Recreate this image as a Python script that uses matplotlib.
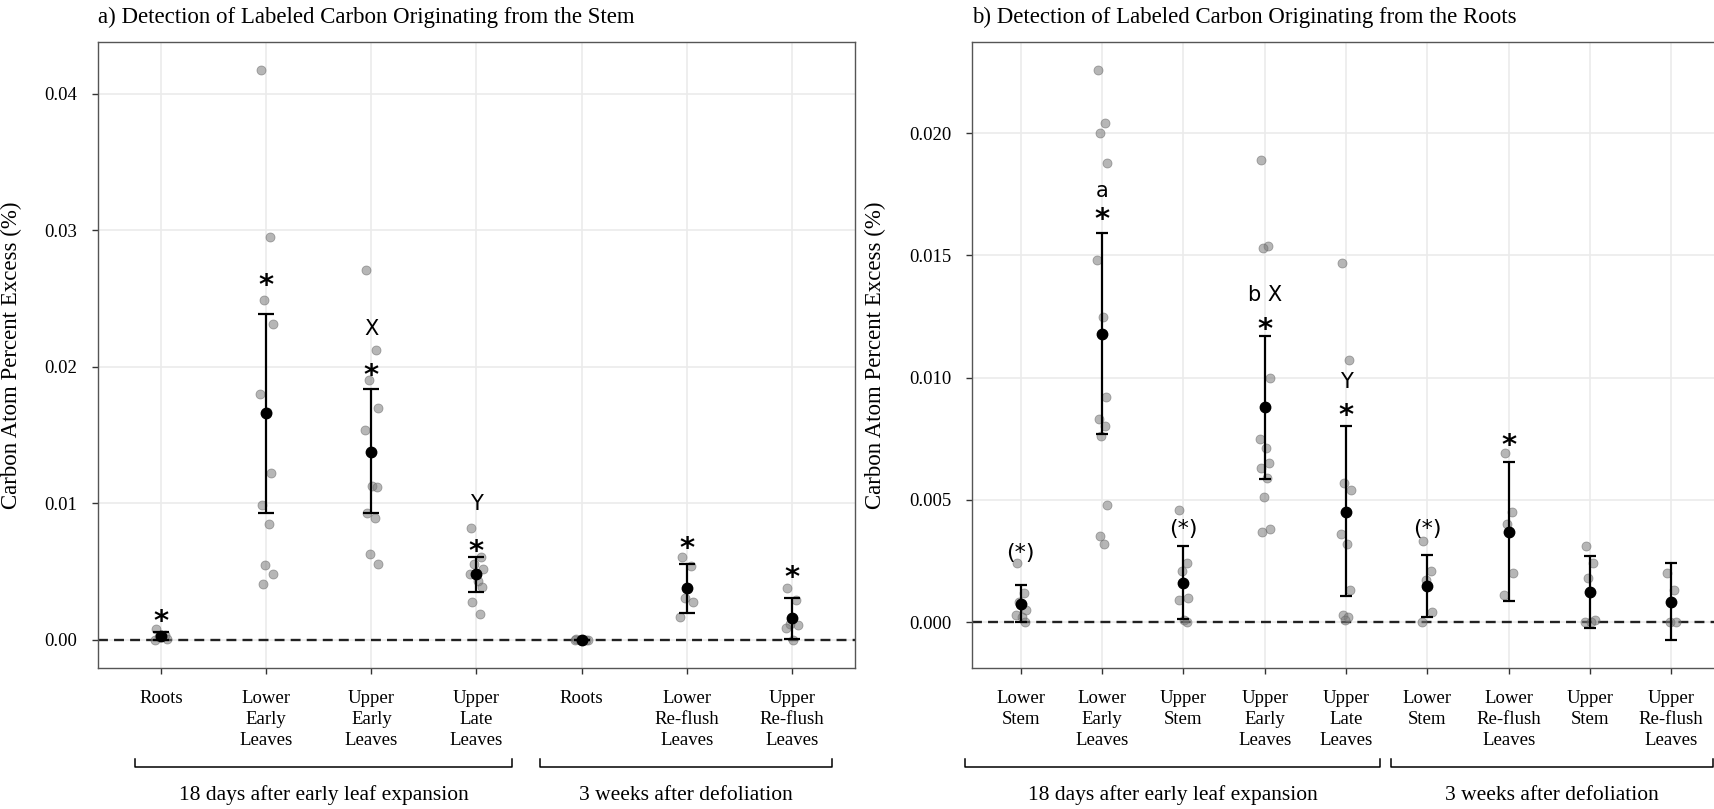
import numpy as np
import matplotlib
matplotlib.use('Agg')
from matplotlib import pyplot as plt
from matplotlib import transforms

plt.rcParams['font.family'] = 'Liberation Serif'

# a) label fed through the stem
stem_groups = ['Roots', 'Lower\nEarly\nLeaves', 'Upper\nEarly\nLeaves', 'Upper\nLate\nLeaves',
               'Roots', 'Lower\nRe-flush\nLeaves', 'Upper\nRe-flush\nLeaves']
stem_points = [
    [0.0008, 0.0004, 0.0002, 0.0001, 0.0000],
    [0.0417, 0.0295, 0.0249, 0.0231, 0.0180, 0.0167, 0.0122, 0.0099, 0.0085, 0.0055, 0.0048, 0.0041],
    [0.0271, 0.0212, 0.0190, 0.0170, 0.0154, 0.0113, 0.0112, 0.0093, 0.0089, 0.0063, 0.0056],
    [0.0082, 0.0061, 0.0056, 0.0052, 0.0048, 0.0043, 0.0039, 0.0028, 0.0019],
    [0.0001, 0.0000, 0.0000, 0.0000, 0.0000],
    [0.0061, 0.0054, 0.0031, 0.0028, 0.0017],
    [0.0038, 0.0029, 0.0012, 0.0011, 0.0009, 0.0000],
]
stem_mean = [0.0003, 0.0166, 0.0138, 0.0048, 0.0000, 0.0038, 0.0016]
stem_lo = [0.0000, 0.0093, 0.0093, 0.0035, -0.00003, 0.0020, 0.0001]
stem_hi = [0.0006, 0.0239, 0.0184, 0.0061, 0.00003, 0.0056, 0.0031]
stem_marks = [[('*', 0.0020)], [('*', 0.0266)], [('X', 0.0229), ('*', 0.0200)],
              [('Y', 0.0101), ('*', 0.0071)], [], [('*', 0.0073)], [('*', 0.0052)]]

# b) label fed through the roots
root_groups = ['Lower\nStem', 'Lower\nEarly\nLeaves', 'Upper\nStem', 'Upper\nEarly\nLeaves',
               'Upper\nLate\nLeaves', 'Lower\nStem', 'Lower\nRe-flush\nLeaves', 'Upper\nStem',
               'Upper\nRe-flush\nLeaves']
root_points = [
    [0.0024, 0.0012, 0.0008, 0.0005, 0.0003, 0.0002, 0.0000],
    [0.0226, 0.0204, 0.0200, 0.0188, 0.0148, 0.0125, 0.0092, 0.0083, 0.0080, 0.0076, 0.0048, 0.0035, 0.0032],
    [0.0046, 0.0024, 0.0021, 0.0010, 0.0009, 0.0001, 0.0000],
    [0.0189, 0.0154, 0.0153, 0.0100, 0.0075, 0.0071, 0.0065, 0.0063, 0.0059, 0.0051, 0.0038, 0.0037],
    [0.0147, 0.0107, 0.0057, 0.0054, 0.0036, 0.0032, 0.0013, 0.0003, 0.0002, 0.0001],
    [0.0033, 0.0021, 0.0017, 0.0004, 0.0000],
    [0.0069, 0.0045, 0.0040, 0.0020, 0.0011],
    [0.0031, 0.0024, 0.0018, 0.0001, 0.0000, 0.0000],
    [0.0020, 0.0013, 0.0000, 0.0000],
]
root_mean = [0.00075, 0.0118, 0.0016, 0.0088, 0.0045, 0.00146, 0.0037, 0.00124, 0.00083]
root_lo = [0.0000, 0.0077, 0.00014, 0.00585, 0.00105, 0.0002, 0.00086, -0.00023, -0.00074]
root_hi = [0.0015, 0.0159, 0.0031, 0.0117, 0.0080, 0.00273, 0.00653, 0.00272, 0.00243]
root_marks = [[('(*)', 0.00287)], [('a', 0.0176), ('*', 0.0168)], [('(*)', 0.00385)],
              [('b X', 0.01344), ('*', 0.0123)], [('Y', 0.0099), ('*', 0.00878)],
              [('(*)', 0.00385)], [('*', 0.00758)], [], []]

stem_periods = [('18 days after early leaf expansion', -0.25, 3.34),
                ('3 weeks after defoliation', 3.60, 6.38)]
root_periods = [('18 days after early leaf expansion', -0.68, 4.42),
                ('3 weeks after defoliation', 4.55, 8.51)]

jitter = [-0.05, 0.04, -0.02, 0.06, -0.06, 0.01, 0.05, -0.04, 0.03, -0.01, 0.06, -0.03, 0.02]
# glyph centre above the baseline (em) and font size for each kind of mark
glyph_mid = {'*': 0.58, 'X': 0.36, 'Y': 0.36, 'a': 0.27, 'b X': 0.36, '(*)': 0.32}
mark_size = {'*': 21, 'X': 15, 'Y': 15, 'a': 15, 'b X': 15, '(*)': 16}
mark_weight = {'*': 'bold'}

W, H = 1715, 809
fig = plt.figure(figsize=(W / 100, H / 100), dpi=100)
ax_a = fig.add_axes([98 / W, 1 - 668 / H, 757 / W, 626 / H])
ax_b = fig.add_axes([972 / W, 1 - 668 / H, 748 / W, 626 / H])


def draw_panel(ax, groups, points, mean, lo, hi, marks, periods, ylim, yticks, yfmt, title, cap):
    n = len(groups)
    x = np.arange(n)
    ax.set_xlim(-0.6, n - 0.4)
    ax.set_ylim(*ylim)
    ax.set_facecolor('white')
    ax.grid(True, color='#ebebeb', lw=1.2, zorder=0)
    ax.set_axisbelow(True)
    for sp in ax.spines.values():
        sp.set_color('#555555')
        sp.set_linewidth(1.0)
    ax.axhline(0, color='#222222', lw=1.7, dashes=(4.2, 2.6), zorder=2)

    for i, vals in enumerate(points):
        xs = [i + jitter[k % len(jitter)] for k in range(len(vals))]
        ax.scatter(xs, vals, s=42, color='#7a7a7a', alpha=0.55, lw=0.6,
                   edgecolors='#666666', zorder=3)

    mean = np.array(mean)
    err = [mean - np.array(lo), np.array(hi) - mean]
    ax.errorbar(x, mean, yerr=err, fmt='o', color='black', ms=7.5, elinewidth=1.6,
                capsize=cap, capthick=1.6, zorder=4)

    for i, lab in enumerate(marks):
        for txt, yv in lab:
            fs = mark_size[txt]
            off = transforms.offset_copy(ax.transData, fig=fig, x=0,
                                         y=-glyph_mid[txt] * fs, units='points')
            ax.text(i, yv, txt, ha='center', va='baseline', fontsize=fs,
                    fontweight=mark_weight.get(txt, 'normal'),
                    family='DejaVu Sans', transform=off, zorder=5)

    ax.set_xticks(x)
    ax.set_xticklabels(groups, fontsize=13.5, linespacing=1.3)
    ax.set_yticks(yticks)
    ax.set_yticklabels([yfmt.format(v) for v in yticks], fontsize=13.5)
    ax.tick_params(axis='both', direction='out', length=4, width=1, color='#333333')
    ax.tick_params(axis='x', pad=12)
    ax.tick_params(axis='y', pad=11)
    ax.set_ylabel('Carbon Atom Percent Excess (%)', fontsize=16.5)
    ax.text(0, 1.04, title, transform=ax.transAxes, fontsize=16.5, ha='left', va='center')

    # period brackets under the category labels
    tr = transforms.blended_transform_factory(ax.transData, ax.transAxes)
    for name, x0, x1 in periods:
        ax.plot([x0, x0, x1, x1], [-0.145, -0.158, -0.158, -0.145], color='black', lw=1.1,
                transform=tr, clip_on=False)
        ax.text((x0 + x1) / 2, -0.203, name, transform=tr, ha='center', va='center', fontsize=15.5)


draw_panel(ax_a, stem_groups, stem_points, stem_mean, stem_lo, stem_hi, stem_marks, stem_periods,
           (-0.00205, 0.04378), [0.0, 0.01, 0.02, 0.03, 0.04], '{:.2f}',
           'a) Detection of Labeled Carbon Originating from the Stem', 5.7)
draw_panel(ax_b, root_groups, root_points, root_mean, root_lo, root_hi, root_marks, root_periods,
           (-0.00188, 0.02373), [0.0, 0.005, 0.01, 0.015, 0.02], '{:.3f}',
           'b) Detection of Labeled Carbon Originating from the Roots', 4.4)

ax_a.yaxis.set_label_coords(-0.10, 0.5)
ax_b.yaxis.set_label_coords(-0.115, 0.5)

fig.savefig('out.png', dpi=100, facecolor='white')
